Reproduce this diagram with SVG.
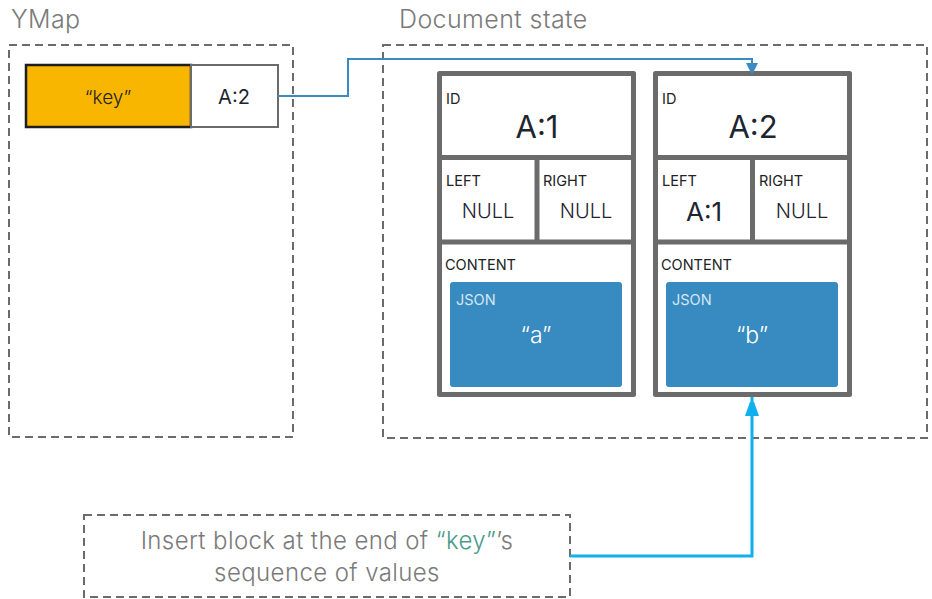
<svg xmlns="http://www.w3.org/2000/svg" width="932" height="599" viewBox="0 0 932 599">
  <style>
    text { font-family: Inter, "Noto Sans", "Liberation Sans", sans-serif; }
    .title { font-size: 25px; font-weight: 300; fill: #7a7a7a; letter-spacing: 0.4px; }
    .frame { fill: none; stroke: #6b6b6b; stroke-width: 2; stroke-dasharray: 8 5; }
    .node { fill: #fff; stroke: #6b6b6b; stroke-width: 5; stroke-linejoin: round; }
    .div { stroke: #6b6b6b; stroke-width: 5; }
    .lbl { font-size: 14.5px; fill: #222; }
    .big { font-size: 31px; fill: #1c2530; text-anchor: middle; }
    .mid { font-size: 26px; fill: #1c2530; text-anchor: middle; }
    .null { font-size: 20px; font-weight: 300; fill: #1c2530; text-anchor: middle; }
    .json { fill: #378bc0; }
    .jlbl { font-size: 14.5px; fill: #d7e7f3; }
    .jval { font-size: 23px; font-weight: 300; fill: #fff; text-anchor: middle; }
    .note { font-size: 24px; font-weight: 300; fill: #7a7a7a; text-anchor: middle; letter-spacing: 0.4px; }
  </style>
  <defs>
    <marker id="arrDark" markerWidth="12" markerHeight="12" refX="10" refY="6" orient="auto" markerUnits="userSpaceOnUse">
      <path d="M0,0 L12,6 L0,12 Z" fill="#3a8bc2"/>
    </marker>
    <marker id="arrLight" markerWidth="14" markerHeight="20" refX="19" refY="7" orient="auto" markerUnits="userSpaceOnUse">
      <path d="M0,0 L20,7 L0,14 Z" fill="#0fb0ee"/>
    </marker>
  </defs>

  <!-- YMap container -->
  <g id="ymap">
    <text class="title" x="11" y="28">YMap</text>
    <rect class="frame" x="9" y="45" width="284" height="392"/>
    <rect x="26" y="65" width="165" height="62" fill="#f9b600" stroke="#1e1e1e" stroke-width="2.5"/>
    <text x="108" y="104" font-size="19" font-weight="300" fill="#222" text-anchor="middle">“key”</text>
    <rect x="191" y="65" width="87" height="62" fill="#fff" stroke="#6b6b6b" stroke-width="2"/>
    <text x="234" y="104" font-size="20" fill="#1c2530" text-anchor="middle">A:2</text>
  </g>

  <!-- Document state container -->
  <g id="docstate">
    <text class="title" x="399" y="28">Document state</text>
    <rect class="frame" x="383" y="45" width="544" height="393"/>
  </g>

  <!-- Block A:1 -->
  <g id="blockA1">
    <rect class="node" x="439.5" y="73.5" width="194" height="321"/>
    <line class="div" x1="439.5" y1="157.5" x2="633.5" y2="157.5"/>
    <line class="div" x1="537" y1="157.5" x2="537" y2="242"/>
    <line class="div" x1="439.5" y1="242" x2="633.5" y2="242"/>
    <text class="lbl" x="446" y="104">ID</text>
    <text class="big" x="537" y="138">A:1</text>
    <text class="lbl" x="446" y="186">LEFT</text>
    <text class="null" x="488" y="218">NULL</text>
    <text class="lbl" x="543" y="186">RIGHT</text>
    <text class="null" x="586" y="218">NULL</text>
    <text class="lbl" x="445" y="270">CONTENT</text>
    <rect class="json" x="450" y="282" width="172" height="105" rx="3"/>
    <text class="jlbl" x="456" y="305">JSON</text>
    <text class="jval" x="536" y="343">“a”</text>
  </g>

  <!-- Block A:2 -->
  <g id="blockA2">
    <rect class="node" x="655.5" y="73.5" width="194" height="321"/>
    <line class="div" x1="655.5" y1="157.5" x2="849.5" y2="157.5"/>
    <line class="div" x1="752.5" y1="157.5" x2="752.5" y2="242"/>
    <line class="div" x1="655.5" y1="242" x2="849.5" y2="242"/>
    <text class="lbl" x="662" y="104">ID</text>
    <text class="big" x="753" y="138">A:2</text>
    <text class="lbl" x="662" y="186">LEFT</text>
    <text class="mid" x="704" y="221">A:1</text>
    <text class="lbl" x="759" y="186">RIGHT</text>
    <text class="null" x="802" y="218">NULL</text>
    <text class="lbl" x="661" y="270">CONTENT</text>
    <rect class="json" x="666" y="282" width="172" height="105" rx="3"/>
    <text class="jlbl" x="672" y="305">JSON</text>
    <text class="jval" x="752" y="343">“b”</text>
  </g>

  <!-- Note -->
  <g id="note">
    <rect class="frame" x="84" y="515" width="486" height="82"/>
    <text class="note" x="327" y="549">Insert block at the end of <tspan fill="#4a9a8a">“key”</tspan>’s</text>
    <text class="note" x="327" y="581">sequence of values</text>
  </g>

  <!-- Connectors -->
  <g id="connectors" fill="none">
    <path d="M278,96 H348 V59 H752 V73" stroke="#3a8bc2" stroke-width="2" marker-end="url(#arrDark)"/>
    <path d="M570,556 H752 V397" stroke="#0fb0ee" stroke-width="3" marker-end="url(#arrLight)"/>
  </g>
</svg>
